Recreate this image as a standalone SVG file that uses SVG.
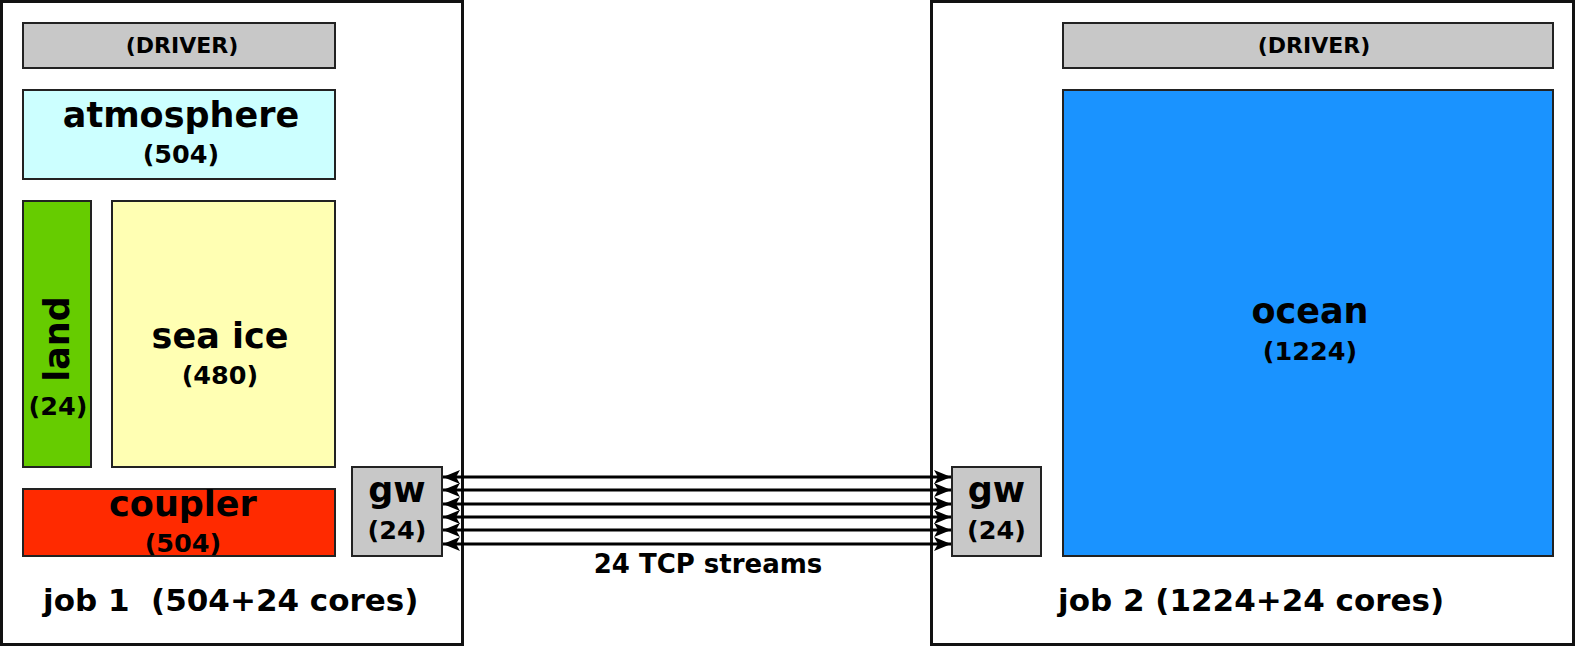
<svg xmlns="http://www.w3.org/2000/svg" width="1576" height="647" viewBox="0 0 1576 647">
<style>
text{font-family:"DejaVu Sans","Liberation Sans",sans-serif;font-weight:bold;fill:#000;text-anchor:middle}
.job{fill:#fff;stroke:#111;stroke-width:3}
.box{stroke:#222;stroke-width:2}
.big{font-size:35px}
.mid{font-size:25.5px}
.drv{font-size:22px}
.lbl{font-size:31px;text-anchor:start}
.con line{stroke:#000;stroke-width:3}
</style>
<defs>
<marker id="ah" markerUnits="userSpaceOnUse" viewBox="0 0 18 16" markerWidth="18" markerHeight="16" refX="17" refY="8" orient="auto-start-reverse" overflow="visible">
<path d="M17,8 L0,1 L4,8 L0,15 Z" fill="#000"/>
</marker>
</defs>
<rect width="1576" height="647" fill="#fff"/>
<g id="job1">
<rect class="job" x="1.5" y="1.5" width="461" height="643"/>
<text class="lbl" x="43" y="611" xml:space="preserve">job 1  (504+24 cores)</text>
</g>
<g id="job2">
<rect class="job" x="931.5" y="1.5" width="642" height="643"/>
<text class="lbl" x="1058" y="611">job 2 (1224+24 cores)</text>
</g>
<g id="driver1">
<rect class="box" x="23" y="23" width="312" height="45" fill="#c8c8c8"/>
<text class="drv" x="182" y="53">(DRIVER)</text>
</g>
<g id="atmosphere">
<rect class="box" x="23" y="90" width="312" height="89" fill="#ccffff"/>
<text class="big" x="181" y="127">atmosphere</text>
<text class="mid" x="181" y="163">(504)</text>
</g>
<g id="land">
<rect class="box" x="23" y="201" width="68" height="266" fill="#66cc00"/>
<text class="big" transform="translate(69,339) rotate(-90)">land</text>
<text class="mid" x="58" y="415">(24)</text>
</g>
<g id="seaice">
<rect class="box" x="112" y="201" width="223" height="266" fill="#ffffb3"/>
<text class="big" x="220" y="348">sea ice</text>
<text class="mid" x="220" y="384">(480)</text>
</g>
<g id="coupler">
<rect class="box" x="23" y="489" width="312" height="67" fill="#ff2a00"/>
<text class="big" x="183" y="516">coupler</text>
<text class="mid" x="183" y="552">(504)</text>
</g>
<g id="gw1">
<rect class="box" x="352" y="467" width="90" height="89" fill="#c8c8c8"/>
<text class="big" x="397" y="502">gw</text>
<text class="mid" x="397" y="539">(24)</text>
</g>
<g id="driver2">
<rect class="box" x="1063" y="23" width="490" height="45" fill="#c8c8c8"/>
<text class="drv" x="1314" y="53">(DRIVER)</text>
</g>
<g id="ocean">
<rect class="box" x="1063" y="90" width="490" height="466" fill="#1a93ff"/>
<text class="big" x="1310" y="323">ocean</text>
<text class="mid" x="1310" y="360">(1224)</text>
</g>
<g id="gw2">
<rect class="box" x="952" y="467" width="89" height="89" fill="#c8c8c8"/>
<text class="big" x="996.5" y="502">gw</text>
<text class="mid" x="996.5" y="539">(24)</text>
</g>
<g id="connectors" class="con">
<line x1="443" y1="477" x2="951" y2="477" marker-start="url(#ah)" marker-end="url(#ah)"/>
<line x1="443" y1="490" x2="951" y2="490" marker-start="url(#ah)" marker-end="url(#ah)"/>
<line x1="443" y1="504" x2="951" y2="504" marker-start="url(#ah)" marker-end="url(#ah)"/>
<line x1="443" y1="517" x2="951" y2="517" marker-start="url(#ah)" marker-end="url(#ah)"/>
<line x1="443" y1="530" x2="951" y2="530" marker-start="url(#ah)" marker-end="url(#ah)"/>
<line x1="443" y1="544" x2="951" y2="544" marker-start="url(#ah)" marker-end="url(#ah)"/>
</g>
<text id="tcp" x="708" y="573" style="font-size:26px">24 TCP streams</text>
</svg>
